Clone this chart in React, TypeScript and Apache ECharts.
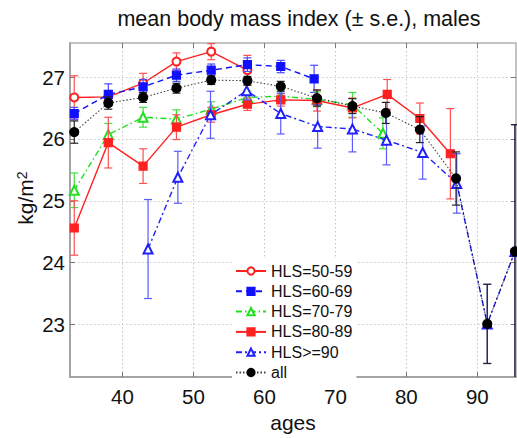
import React, { useEffect, useRef } from "react";
import * as echarts from "echarts";

const FONT = "Liberation Sans, Arial, Helvetica, sans-serif";

const TITLE = "mean body mass index (± s.e.), males";
const X_NAME = "ages";
const Y_NAME = "kg/m{sup|2}";

const X_MIN = 32.6;
const X_MAX = 95.45;
const Y_MIN = 22.15;
const Y_MAX = 27.55;
const X_TICKS = [40, 50, 60, 70, 80, 90];
const Y_TICKS = [23, 24, 25, 26, 27];

// HLS=50-59
const hls5059Age = [33.2, 38.0, 42.9, 47.6, 52.5, 57.6];
const hls5059Bmi = [26.67, 26.68, 26.9, 27.25, 27.41, 27.11];
const hls5059Se = [0.35, 0.1, 0.16, 0.14, 0.13, 0.24];

// HLS=60-69
const hls6069Age = [33.2, 38.0, 42.9, 47.6, 52.5, 57.6, 62.3, 67.0];
const hls6069Bmi = [26.41, 26.72, 26.84, 27.03, 27.11, 27.2, 27.17, 26.97];
const hls6069Se = [0.1, 0.17, 0.12, 0.1, 0.1, 0.11, 0.1, 0.22];

// HLS=70-79
const hls7079Age = [33.2, 38.0, 42.9, 47.6, 52.5, 57.6, 62.3, 67.4, 72.4, 76.7];
const hls7079Bmi = [25.17, 26.07, 26.35, 26.32, 26.48, 26.67, 26.69, 26.64, 26.55, 26.09];
const hls7079Se = [0.28, 0.18, 0.16, 0.15, 0.12, 0.1, 0.1, 0.12, 0.2, 0.25];

// HLS=80-89
const hls8089Age = [33.2, 38.0, 42.9, 47.6, 52.5, 57.6, 62.3, 67.4, 72.4, 77.3, 81.9, 86.2];
const hls8089Bmi = [24.56, 25.94, 25.56, 26.19, 26.39, 26.56, 26.63, 26.62, 26.5, 26.72, 26.33, 25.76];
const hls8089Se = [0.44, 0.41, 0.28, 0.2, 0.12, 0.1, 0.1, 0.17, 0.16, 0.24, 0.25, 0.73];

// HLS>=90
const hls90Age = [43.6, 47.8, 52.4, 57.5, 62.3, 67.5, 72.4, 77.2, 82.3, 87.1, 91.4, 95.3];
const hls90Bmi = [24.22, 25.38, 26.39, 26.78, 26.41, 26.2, 26.16, 25.98, 25.78, 25.28, 23.01, 24.18];
const hls90Se = [0.8, 0.42, 0.38, 0.15, 0.33, 0.35, 0.37, 0.4, 0.43, 0.48, 0.64, 2.05];

// all
const allAge = [33.2, 38.0, 42.9, 47.6, 52.5, 57.6, 62.3, 67.4, 72.4, 77.1, 81.9, 87.0, 91.4, 95.3];
const allBmi = [26.11, 26.58, 26.67, 26.82, 26.95, 26.94, 26.85, 26.66, 26.53, 26.42, 26.15, 25.36, 23.01, 24.18];
const allSe = [0.18, 0.1, 0.08, 0.08, 0.07, 0.07, 0.08, 0.13, 0.12, 0.17, 0.21, 0.43, 0.64, 2.05];

type S = {
  name: string;
  age: number[];
  bmi: number[];
  se: number[];
  color: string;
  errColor: string;
  symbol: string;
  symbolSize: number;
  dash: any;
  width: number;
};

const SERIES: S[] = [
  { name: "HLS=50-59", age: hls5059Age, bmi: hls5059Bmi, se: hls5059Se, color: "#ff2020", errColor: "#ff5050", symbol: "emptyCircle", symbolSize: 8, dash: "solid", width: 1.4 },
  { name: "HLS=60-69", age: hls6069Age, bmi: hls6069Bmi, se: hls6069Se, color: "#1010ff", errColor: "#4a4aff", symbol: "rect", symbolSize: 8, dash: [6, 4], width: 1.4 },
  { name: "HLS=70-79", age: hls7079Age, bmi: hls7079Bmi, se: hls7079Se, color: "#20e020", errColor: "#40e040", symbol: "emptyTriangle", symbolSize: 9, dash: [6, 3, 1.5, 3], width: 1.4 },
  { name: "HLS=80-89", age: hls8089Age, bmi: hls8089Bmi, se: hls8089Se, color: "#ff2020", errColor: "#ff5050", symbol: "rect", symbolSize: 8, dash: "solid", width: 1.4 },
  { name: "HLS>=90", age: hls90Age, bmi: hls90Bmi, se: hls90Se, color: "#2020ff", errColor: "#5a5aff", symbol: "emptyTriangle", symbolSize: 9, dash: [6, 3, 2, 3], width: 1.4 },
  { name: "all", age: allAge, bmi: allBmi, se: allSe, color: "#000000", errColor: "#222222", symbol: "circle", symbolSize: 9, dash: [1.5, 2], width: 1.1 },
];

export default function App() {
  const ref = useRef<HTMLDivElement>(null);
  useEffect(() => {
    if (!ref.current) return;
    const chart = echarts.init(ref.current, undefined, { renderer: "svg" });

    const series: any[] = [];
    SERIES.forEach((s, i) => {
      series.push({
        type: "custom",
        name: s.name + " err",
        z: 2 + i,
        silent: true,
        data: s.age.map((a, k) => [a, s.bmi[k] - s.se[k], s.bmi[k] + s.se[k]]),
        encode: { x: 0, y: [1, 2] },
        renderItem: (params: any, api: any) => {
          const x = api.value(0);
          const lo = api.value(1);
          const hi = api.value(2);
          const top = api.coord([x, Math.min(hi, Y_MAX)]);
          const bot = api.coord([x, Math.max(lo, Y_MIN)]);
          const hw = 4;
          const st = { stroke: s.errColor, lineWidth: 1.2 };
          const children: any[] = [
            { type: "line", shape: { x1: top[0], y1: top[1], x2: bot[0], y2: bot[1] }, style: st },
          ];
          if (hi <= Y_MAX)
            children.push({ type: "line", shape: { x1: top[0] - hw, y1: top[1], x2: top[0] + hw, y2: top[1] }, style: st });
          if (lo >= Y_MIN)
            children.push({ type: "line", shape: { x1: bot[0] - hw, y1: bot[1], x2: bot[0] + hw, y2: bot[1] }, style: st });
          return { type: "group", children };
        },
      });
      series.push({
        type: "line",
        name: s.name,
        z: 2 + i,
        clip: false,
        data: s.age.map((a, k) => [a, s.bmi[k]]),
        symbol: s.symbol,
        symbolSize: s.symbolSize,
        showAllSymbol: true,
        lineStyle: { color: s.color, width: s.width, type: s.dash, opacity: i === 5 ? 0.75 : 1 },
        itemStyle: { color: s.color, borderColor: s.color, borderWidth: 1.2 },
      });
    });

    const axisCommon = {
      type: "value",
      axisLine: { show: true, lineStyle: { color: "#9a9a9a", width: 1.5 } },
      axisTick: { show: true, inside: true, length: 5, lineStyle: { color: "#777" } },
      splitLine: { show: false },
    };

    chart.setOption({
      animation: false,
      backgroundColor: "#fff",
      title: {
        text: TITLE,
        left: 294,
        textAlign: "center",
        top: 3,
        textStyle: { fontFamily: FONT, fontSize: 21.5, fontWeight: "normal", color: "#111" },
      },
      grid: {
        left: 70,
        top: 43,
        right: 1,
        bottom: 49,
        show: true,
        borderColor: "#b0b0b0",
        borderWidth: 1.5,
        backgroundColor: "#fff",
      },
      legend: {
        data: SERIES.map((s) => s.name),
        orient: "vertical",
        left: 232,
        top: 258,
        padding: [5, 4, 6, 3],
        backgroundColor: "#fff",
        itemWidth: 30,
        itemHeight: 9,
        itemGap: 4.3,
        textStyle: { fontFamily: FONT, fontSize: 16, color: "#111", lineHeight: 16 },
      },
      xAxis: [
        {
          ...axisCommon,
          min: X_MIN,
          max: X_MAX,
          name: X_NAME,
          nameLocation: "middle",
          nameGap: 22,
          nameTextStyle: { fontFamily: FONT, fontSize: 21, color: "#111", verticalAlign: "top" },
          axisTick: { ...axisCommon.axisTick, customValues: X_TICKS },
          axisLabel: { customValues: X_TICKS, fontFamily: FONT, fontSize: 20.5, color: "#111", margin: 9 },
          splitLine: { show: true, lineStyle: { color: "#c8c8c8", type: [1.5, 2.5] } },
        },
        {
          ...axisCommon,
          position: "top",
          min: X_MIN,
          max: X_MAX,
          axisLine: { show: false },
          axisTick: { ...axisCommon.axisTick, customValues: X_TICKS },
          axisLabel: { show: false },
        },
      ],
      yAxis: [
        {
          ...axisCommon,
          min: Y_MIN,
          max: Y_MAX,
          axisTick: { ...axisCommon.axisTick, customValues: Y_TICKS },
          axisLabel: { customValues: Y_TICKS, fontFamily: FONT, fontSize: 20.5, color: "#111", margin: 5 },
          splitLine: { show: true, lineStyle: { color: "#c8c8c8", type: [1.5, 2.5] } },
        },
        {
          ...axisCommon,
          position: "right",
          min: Y_MIN,
          max: Y_MAX,
          axisLine: { show: false },
          axisTick: { ...axisCommon.axisTick, customValues: Y_TICKS },
          axisLabel: { show: false },
        },
      ],
      graphic: [
        {
          type: "text",
          x: 25,
          y: 198,
          rotation: Math.PI / 2,
          style: {
            text: Y_NAME,
            align: "center",
            verticalAlign: "middle",
            fontFamily: FONT,
            fontSize: 21,
            fill: "#111",
            rich: { sup: { fontSize: 14, verticalAlign: "top", fontFamily: FONT, fill: "#111" } },
          },
        },
      ],
      series,
    });
    return () => chart.dispose();
  }, []);
  return (
    <div
      ref={ref}
      style={{ position: "fixed", left: 0, top: 0, width: 517, height: 438, overflow: "hidden" }}
    />
  );
}
